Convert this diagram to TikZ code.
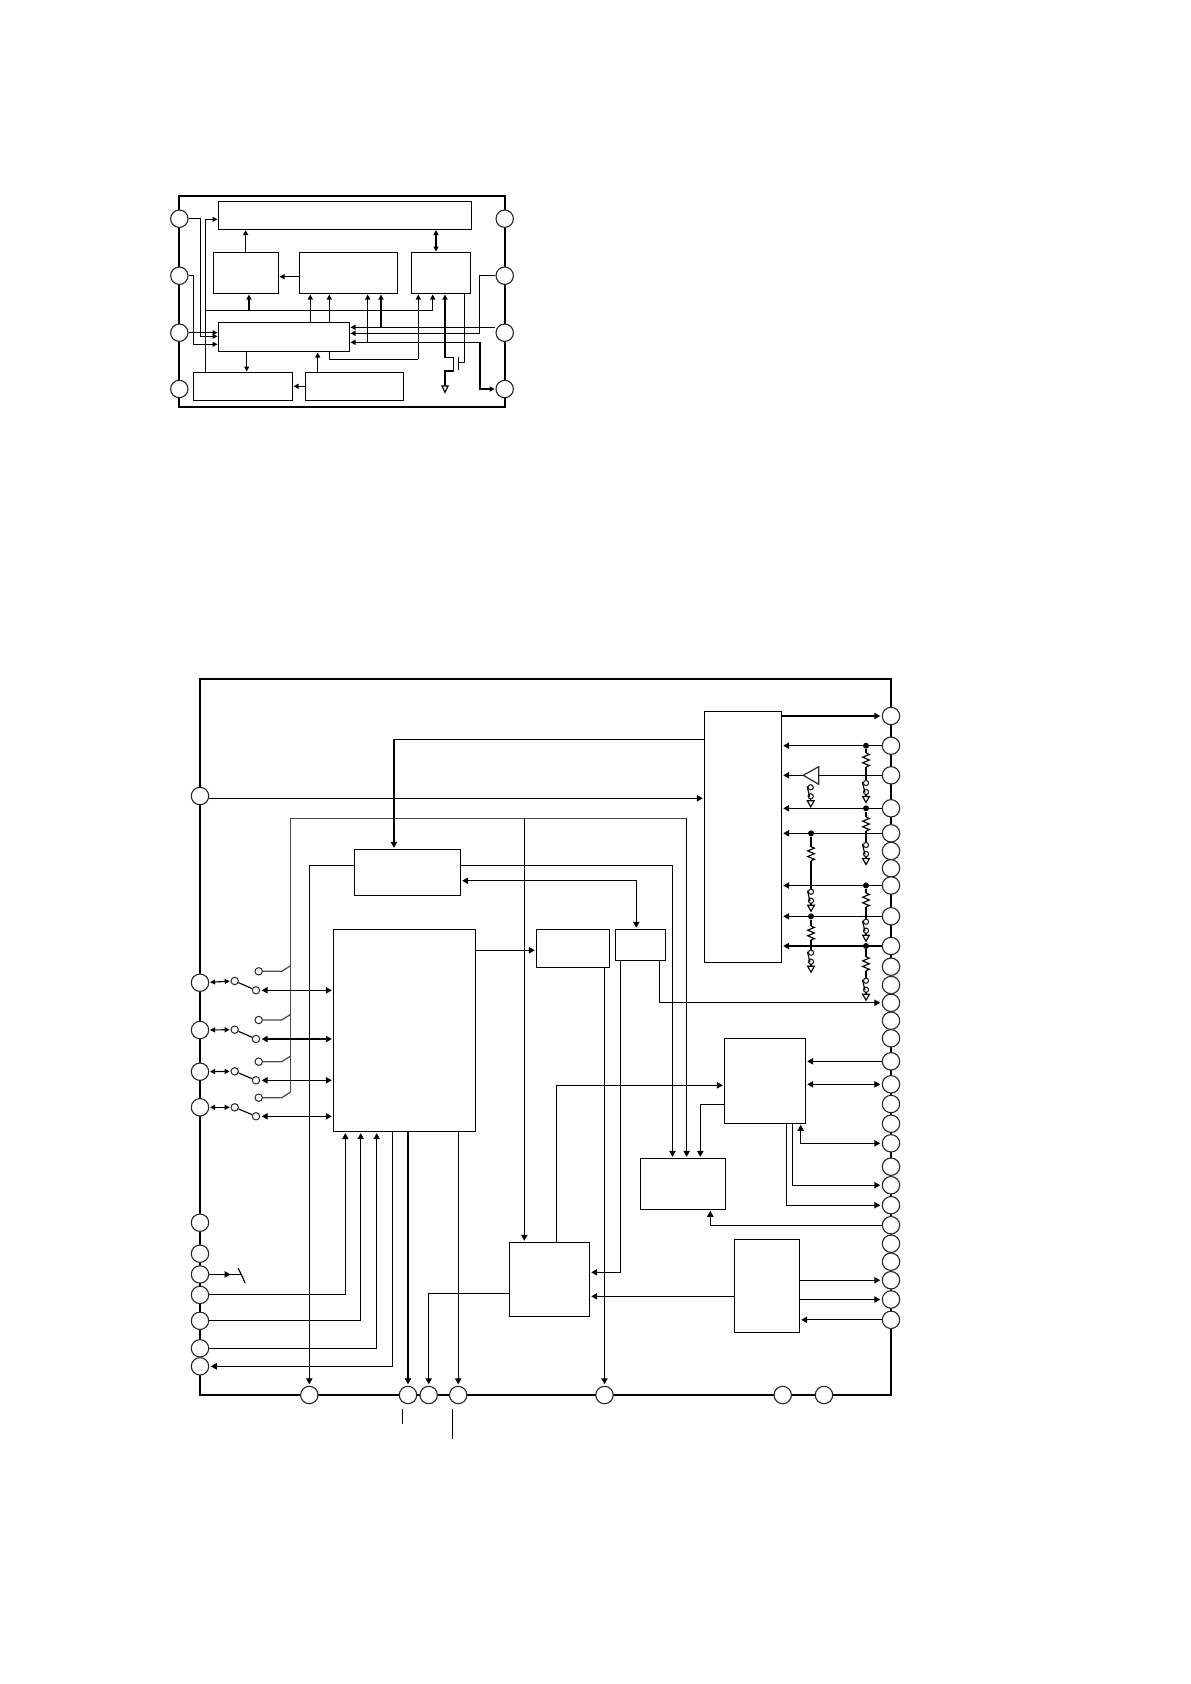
\documentclass[tikz,border=0pt]{standalone}
\usepackage{amsmath,amssymb}
\usetikzlibrary{positioning,calc,arrows.meta}
\tikzset{
frame/.style={draw=black,line width=2.3pt},
icbox/.style={draw=black,line width=1.2pt,fill=white,inner sep=0pt,outer sep=0pt},
pin/.style={circle,draw=black!85,line width=1.1pt,fill=white,minimum size=17.4pt,inner sep=0pt},
spin/.style={circle,draw=black!85,line width=1pt,fill=white,minimum size=7.4pt,inner sep=0pt},
dot/.style={circle,fill=black,minimum size=6pt,inner sep=0pt},
sig/.style={draw=black,line width=1.15pt},
ctl/.style={draw=black!70,line width=1.25pt},
ar/.style={sig,-{Triangle[length=6pt,width=6.4pt]},shorten >=1.5pt},
dbl/.style={sig,{Triangle[length=6pt,width=6.4pt]}-{Triangle[length=6pt,width=6.4pt]},shorten >=1.5pt,shorten <=1.5pt},
sar/.style={sig,-{Triangle[length=5pt,width=5pt]},shorten >=0.8pt},
sdbl/.style={sig,{Triangle[length=5pt,width=5pt]}-{Triangle[length=5pt,width=5pt]},shorten >=0.8pt,shorten <=0.8pt},
res/.pic={\draw[sig] plot coordinates {(0,0) (3.3,1.4) (-3.3,4.2) (3.3,7) (-3.3,9.8) (3.3,12.6) (0,14)};},
gnd/.pic={
\draw[sig,draw=black!85,fill=white] (0,0) circle (2.6);
\draw[sig,draw=black!85,fill=white] (0,9) circle (2.6);
\draw[sig] (-3.6,-1) -- (-1,9.5);
\draw[sig] (0,11.6) -- (0,13.5);
\draw[sig,fill=white] (-3.4,13.5) -- (3.4,13.5) -- (0,19.5) -- cycle;
}
}
% wire from a dot through the resistor down to the ground switch
\newcommand{\rgnd}[3]{
\draw[sig] (#1) -- (#1 |- 0,#2) pic{res};
\draw[sig] (#1 |- 0,#2+14) -- (#1 |- 0,#3-2.6);
\path (#1 |- 0,#3) pic{gnd};
}
\begin{document}
\begin{tikzpicture}[x=1pt,y=-1pt]
\useasboundingbox (0,0) rectangle (1191,1684);
% small block diagram
\node[frame,minimum width=326pt,minimum height=211pt,inner sep=0pt] (sframe) at (342,301.2) {};
\node[icbox,minimum width=253.4pt,minimum height=27.6pt] (stop) at (345,215.5) {};
\node[icbox,minimum width=65.4pt,minimum height=41.4pt] (sbb) at (246,273) {};
\node[icbox,minimum width=98.4pt,minimum height=41.4pt] (sbc) at (348.5,273) {};
\node[icbox,minimum width=59.4pt,minimum height=41.4pt] (sbd) at (441,273) {};
\node[icbox,minimum width=131.4pt,minimum height=29.4pt] (smid) at (284,337) {};
\node[icbox,minimum width=99.4pt,minimum height=28pt] (sbl) at (243,386.3) {};
\node[icbox,minimum width=98.4pt,minimum height=28pt] (sbr) at (354.5,386.3) {};
\foreach \i/\y in {1/218.7,2/275.7,3/332.7,4/389}{
\node[pin] (sl\i) at (179.3,\y) {};
\node[pin] (sr\i) at (504.7,\y) {};
}
\coordinate (sbus) at (205.3,310.3);
\draw[sar] (sl1) -| (200.7,336.3) -- (smid.west |- 0,336.3);
\draw[sar] (sl2) -| (193.3,344.3) -- (smid.west |- 0,344.3);
\draw[sar] (sl3) -- (smid.west |- sl3);
\draw[sar] (sbl.north -| sbus) |- (stop.west |- 0,219.3);
\draw[sig] (sbus) -- (432.7,310.3);
\draw[sar] (sbus -| 432.7,0) -- (sbd.south -| 432.7,0);
\draw[sar] (sbus -| 249,0) -- (sbb.south -| 249,0);
\draw[sar] (sbb.north -| 245.7,0) -- (stop.south -| 245.7,0);
\draw[sar] (sbc.west |- 0,276.7) -- (sbb.east |- 0,276.7);
\draw[sdbl] (sbd.north -| 436,0) -- (stop.south -| 436,0);
\draw[sar] (smid.north -| 310.3,0) -- (sbc.south -| 310.3,0);
\draw[sar] (smid.north -| 329.3,0) -- (sbc.south -| 329.3,0);
\draw[sar] (367.7,342.3) -- (sbc.south -| 367.7,0);
\draw[sar] (sr3.west |- 0,327.3) -- (smid.east |- 0,327.3);
\draw[sar] (381,327.3) -- (sbc.south -| 381,0);
\draw[sar] (sr2) -| (479.3,333.3) -- (smid.east |- 0,333.3);
\draw[sar] (480,342.3) -- (smid.east |- 0,342.3);
\draw[sar] (480,342.3) |- (sr4);
\draw[sig] (smid.south -| 329.3,0) |- (418.3,359.3);
\draw[sar] (418.3,359.3) -- (sbd.south -| 418.3,0);
\draw[sar] (445,357.7) -- (sbd.south -| 445,0);
\draw[sig] (445,357.7) -- (453.7,357.7) -- (453.7,371) -- (445,371) -- (445,386);
\draw[sig,fill=white] (441.9,386) -- (448.1,386) -- (445,392.3) -- cycle;
\draw[sig] (458.3,356.7) -- (458.3,370);
\draw[sig] (458.3,362.7) -| (sbd.south -| 464.3,0);
\draw[sar] (smid.south -| 246.7,0) -- (sbl.north -| 246.7,0);
\draw[sar] (sbr.north -| 317.7,0) -- (smid.south -| 317.7,0);
\draw[sar] (sbr.west) -- (sbl.east |- sbr.west);
% large block diagram
\node[frame,minimum width=691pt,minimum height=716pt,inner sep=0pt] (bframe) at (545.5,1037) {};
\node[icbox,minimum width=77.4pt,minimum height=251.4pt] (bigR) at (743,837) {};
\node[icbox,minimum width=106.4pt,minimum height=46pt] (abox) at (407.5,872.3) {};
\node[icbox,minimum width=142.4pt,minimum height=202.4pt] (bigL) at (404.5,1030.5) {};
\node[icbox,minimum width=73pt,minimum height=38pt] (cbox) at (572.8,948.3) {};
\node[icbox,minimum width=50.4pt,minimum height=31pt] (dbox) at (640.5,944.8) {};
\node[icbox,minimum width=81.4pt,minimum height=85pt] (ebox) at (765,1080.8) {};
\node[icbox,minimum width=85.4pt,minimum height=51pt] (fbox) at (683,1183.8) {};
\node[icbox,minimum width=80.4pt,minimum height=74pt] (gbox) at (549.5,1279.3) {};
\node[icbox,minimum width=65.4pt,minimum height=93pt] (hbox) at (767,1285.8) {};
\foreach \y [count=\i] in {796,982.7,1030,1071.7,1107.3,1222.7,1253.7,1274.4,1294.9,1320.8,1348.3,1366.3}
\node[pin] (pl\i) at (200,\y) {};
\foreach \x [count=\i] in {309.3,408,428.7,458.2,604.5,782.7,824}
\node[pin] (pb\i) at (\x,1395) {};
\foreach \y [count=\i] in {716,745.7,775.3,808.3,833.3,851,868.3,885.5,916.3,946,966.7,985,1002.8,1020.7,1038.3,1061.3,1084.3,1104,1123.7,1143.3,1166.7,1185.2,1205.2,1225.2,1243.7,1261.7,1280.2,1299.5,1319.8}
\node[pin] (pr\i) at (891,\y) {};
% inputs of the right column
\draw[ar] (bigR.east |- pr1) -- (pr1);
\foreach \i/\x in {2/866,4/866,8/866,10/866,5/811,9/811}{
\draw[ar] (pr\i) -- (pr\i -| bigR.east);
\node[dot] (d\i) at (pr\i -| \x,0) {};
}
\rgnd{d2}{753}{783}
\rgnd{d4}{817}{845}
\rgnd{d5}{846.7}{891.7}
\rgnd{d8}{893}{921.7}
\rgnd{d9}{926}{952.7}
\rgnd{d10}{956.7}{980.7}
\coordinate (bufTip) at (803.3,775.3);
\coordinate (bufBase) at (818.7,775.3);
\draw[sig] (pr3) -- (bufBase);
\draw[ar] (bufTip) -- (bufTip -| bigR.east);
\draw[sig,draw=black!85,fill=white] (bufTip) -- (818.7,766.7) -- (818.7,784.3) -- cycle;
\path (810.7,787.3) pic{gnd};
% control bus
\coordinate (ctlA) at (290.7,818.3);
\coordinate (ctlB) at (686.7,818.3);
\coordinate (ctlC) at (524.3,818.3);
\draw[ctl] (ctlB) -- (ctlA) -- (290.7,1091.7);
\draw[ar] (ctlC) -- (gbox.north -| ctlC);
\draw[ar] (ctlB) -- (fbox.north -| ctlB);
\foreach \i/\ya/\yb/\yc in {2/981/990.3/971.3,3/1029.7/1039/1020,4/1071.3/1080.3/1061.7,5/1107.3/1116.3/1097.7}{
\node[spin] (swa\i) at (234.7,\ya) {};
\node[spin] (swb\i) at (256,\yb) {};
\node[spin] (swc\i) at (258.7,\yc) {};
\draw[sdbl] (pl\i) -- (swa\i);
\draw[sig] (swa\i) -- (swb\i);
\draw[dbl] (swb\i) -- (swb\i -| bigL.west);
\draw[ctl] (swc\i) -- (281.7,\yc) -- (290.7,\yc-5.7);
}
% connections between the blocks
\draw[ar] (bigR.west |- 0,739.3) -| (abox.north -| 394,0);
\draw[ar] (pl1.east |- 0,798.3) -- (bigR.west |- 0,798.3);
\draw[ar] (abox.west |- 0,865.3) -| (pb1);
\draw[ar] (abox.east |- 0,865.3) -| (fbox.north -| 672.5,0);
\draw[dbl] (abox.east |- 0,880.7) -| (dbox.north -| 636.3,0);
\draw[ar] (bigL.east |- 0,950.3) -- (cbox.west |- 0,950.3);
\draw[ar] (cbox.south -| pb5) -- (pb5);
\draw[ar] (dbox.south -| 659.3,0) |- (pr13);
\draw[ar] (dbox.south -| 620.3,0) |- (gbox.east |- 0,1272.3);
\draw[ar] (gbox.north -| 556.3,0) |- (ebox.west |- 0,1085.3);
\draw[ar] (ebox.west |- 0,1104.3) -| (fbox.north -| 700.3,0);
\draw[ar] (pr16) -- (pr16 -| ebox.east);
\draw[dbl] (pr17) -- (pr17 -| ebox.east);
\draw[dbl] (pr20) -| (ebox.south -| 800.7,0);
\draw[ar] (ebox.south -| 792.3,0) |- (pr22);
\draw[ar] (ebox.south -| 786.3,0) |- (pr23);
\draw[ar] (pr24) -| (fbox.south -| 710.3,0);
\draw[ar] (hbox.east |- pr27) -- (pr27);
\draw[ar] (hbox.east |- pr28) -- (pr28);
\draw[ar] (pr29) -- (pr29 -| hbox.east);
\draw[ar] (hbox.west |- 0,1296.3) -- (gbox.east |- 0,1296.3);
\draw[ar] (gbox.west |- 0,1293.3) -| (pb3);
\draw[ar] (pl9) -| (bigL.south -| 345.3,0);
\draw[ar] (pl10) -| (bigL.south -| 360.7,0);
\draw[ar] (pl11) -| (bigL.south -| 376.7,0);
\draw[ar] (bigL.south -| 392.7,0) |- (pl12);
\draw[ar] (bigL.south -| pb2) -- (pb2);
\draw[ar] (bigL.south -| pb4) -- (pb4);
% output with the break mark
\coordinate (brkA) at (238.3,1268.3);
\coordinate (brkB) at (245.3,1283.3);
\draw[sig] (pl8) -- (pl8 -| 242.3,0);
\draw[ar] (pl8) -- (pl8 -| 232,0);
\draw[sig] (brkA) -- (brkB);
\coordinate (tickA) at (402.3,1408.7);
\coordinate (tickB) at (452.3,1408.7);
\draw[sig] (tickA) -- ++(0,15.3);
\draw[sig] (tickB) -- ++(0,30.6);
\end{tikzpicture}
\end{document}
